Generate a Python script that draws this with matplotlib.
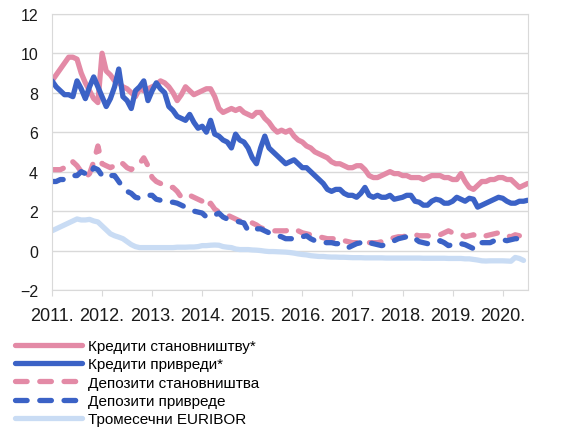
import numpy as np
import matplotlib
matplotlib.use('Agg')
import matplotlib.pyplot as plt

plt.rcParams['font.family'] = ['Liberation Sans', 'DejaVu Sans']

# monthly series, Jan 2011 onwards (%)
krediti_stan = [
    8.6, 8.9, 9.2, 9.5, 9.8, 9.8, 9.7, 9.0, 8.5, 8.1, 7.7, 7.5,
    10.0, 9.1, 8.9, 8.6, 8.5, 8.3, 8.2, 8.0, 7.8, 8.2, 8.1, 8.2,
    8.3, 8.4, 8.6, 8.5, 8.3, 8.0, 7.6, 7.9, 8.3, 8.1, 7.9, 8.0,
    8.1, 8.2, 8.2, 7.8, 7.2, 7.0, 7.1, 7.2, 7.1, 7.2, 7.0, 6.9,
    6.8, 7.0, 7.0, 6.7, 6.5, 6.2, 6.0, 6.1, 6.0, 6.1, 5.8, 5.6,
    5.5, 5.3, 5.2, 5.0, 4.9, 4.8, 4.7, 4.5, 4.4, 4.4, 4.3, 4.2,
    4.2, 4.3, 4.3, 4.1, 3.8, 3.7, 3.7, 3.8, 3.9, 4.0, 3.9, 3.9,
    3.8, 3.8, 3.7, 3.7, 3.7, 3.6, 3.7, 3.8, 3.8, 3.8, 3.7, 3.7,
    3.6, 3.6, 3.9, 3.5, 3.2, 3.1, 3.3, 3.5, 3.5, 3.6, 3.6, 3.7,
    3.7, 3.6, 3.6, 3.4, 3.2, 3.3, 3.4,
]
krediti_priv = [
    8.6, 8.3, 8.1, 7.9, 7.9, 7.8, 8.6, 8.2, 7.7, 8.3, 8.8, 8.3,
    7.8, 7.3, 7.7, 8.3, 9.2, 7.8, 7.6, 7.2, 8.1, 8.3, 8.6, 7.6,
    8.1, 8.5, 8.2, 8.0, 7.3, 7.1, 6.8, 6.7, 6.6, 6.9, 6.5, 6.2,
    6.3, 6.0, 6.6, 5.9, 5.8, 5.6, 5.5, 5.2, 5.9, 5.6, 5.5, 5.2,
    4.7, 4.4, 5.2, 5.8, 5.2, 5.0, 4.8, 4.6, 4.4, 4.5, 4.6, 4.4,
    4.2, 4.2, 4.0, 3.8, 3.6, 3.4, 3.1, 3.0, 3.1, 3.1, 2.9, 2.8,
    2.8, 2.7, 2.9, 3.2, 2.8, 2.7, 2.8, 2.7, 2.7, 2.8, 2.6, 2.65,
    2.7, 2.8, 2.8, 2.5, 2.45, 2.3, 2.3, 2.5, 2.6, 2.55, 2.4, 2.4,
    2.5, 2.7, 2.6, 2.5, 2.65, 2.6, 2.2, 2.3, 2.4, 2.5, 2.6, 2.7,
    2.65, 2.5, 2.4, 2.4, 2.5, 2.5, 2.55,
]
depoziti_stan = [
    4.1, 4.1, 4.1, 4.2, 4.2, 4.5, 4.3, 4.0, 3.7, 3.9, 4.5, 5.3,
    4.4, 4.3, 4.2, 4.3, 4.5, 4.4, 4.2, 4.1, 4.3, 4.4, 4.7, 4.3,
    3.7, 3.5, 3.4, 3.3, 3.2, 3.2, 3.0, 2.7, 2.8, 2.8, 2.7, 2.6,
    2.5, 2.2, 2.4, 2.1, 1.95, 1.9, 1.8, 1.7, 1.6, 1.5, 1.5, 1.45,
    1.4, 1.3, 1.15, 1.1, 1.05, 1.0, 1.0, 1.0, 1.0, 1.05, 1.1, 1.0,
    0.9, 0.85, 0.8, 0.75, 0.7, 0.65, 0.6, 0.6, 0.6, 0.6, 0.5, 0.45,
    0.4, 0.4, 0.4, 0.4, 0.4, 0.4, 0.4, 0.45, 0.5, 0.6, 0.65, 0.7,
    0.7, 0.75, 0.75, 0.8, 0.75, 0.75, 0.75, 0.7, 0.75, 0.8, 0.9, 1.0,
    0.9, 0.85, 0.85, 0.7, 0.75, 0.8, 0.7, 0.75, 0.75, 0.8, 0.85, 0.9,
    0.85, 0.75, 0.7, 0.8, 0.75,
]
depoziti_priv = [
    3.5, 3.5, 3.6, 3.6, 3.7, 3.8, 3.8, 4.0, 3.9, 3.8, 4.2, 4.1,
    3.8, 3.7, 3.8, 3.8, 3.5, 3.2, 3.0, 2.9, 2.7, 2.65, 2.7, 2.8,
    2.8, 2.6, 2.55, 2.5, 2.45, 2.45, 2.4, 2.3, 2.2, 2.1, 2.0, 1.95,
    1.9, 1.7, 1.7, 1.8, 1.9, 1.7, 1.6, 1.55, 1.5, 1.45, 1.4, 1.0,
    1.05, 1.1, 1.1, 1.0, 0.9, 0.85, 0.75, 0.7, 0.6, 0.6, 0.6, 0.6,
    0.7, 0.75, 0.6, 0.5, 0.45, 0.4, 0.4, 0.4, 0.35, 0.35, 0.2, 0.15,
    0.25, 0.35, 0.4, 0.5, 0.4, 0.35, 0.3, 0.25, 0.3, 0.4, 0.5, 0.6,
    0.65, 0.7, 0.75, 0.6, 0.45, 0.4, 0.35, 0.35, 0.4, 0.5, 0.4, 0.25,
    0.3, 0.4, 0.35, 0.3, 0.2, 0.1, 0.4, 0.4, 0.4, 0.4, 0.5, 0.6,
    0.55, 0.5, 0.55, 0.6, 0.6,
]
euribor = [
    1.0, 1.1, 1.2, 1.3, 1.4, 1.5, 1.6, 1.55, 1.55, 1.58, 1.5, 1.45,
    1.25, 1.05, 0.85, 0.75, 0.68, 0.6, 0.45, 0.3, 0.2, 0.15, 0.15, 0.15,
    0.15, 0.15, 0.15, 0.15, 0.15, 0.15, 0.17, 0.17, 0.17, 0.18, 0.18, 0.2,
    0.25, 0.25, 0.27, 0.28, 0.27, 0.2, 0.17, 0.15, 0.08, 0.05, 0.05, 0.05,
    0.03, 0.02, 0.0, -0.03, -0.05, -0.05, -0.06, -0.07, -0.08, -0.1, -0.13, -0.17,
    -0.2, -0.22, -0.26, -0.28, -0.3, -0.3, -0.32, -0.33, -0.33, -0.34, -0.34, -0.35,
    -0.36, -0.36, -0.36, -0.37, -0.37, -0.37, -0.37, -0.37, -0.38, -0.38, -0.38, -0.38,
    -0.38, -0.38, -0.38, -0.38, -0.38, -0.39, -0.39, -0.39, -0.39, -0.39, -0.39, -0.4,
    -0.4, -0.4, -0.4, -0.42, -0.42, -0.45, -0.48, -0.52, -0.53, -0.52, -0.52, -0.52,
    -0.52, -0.53, -0.54, -0.35, -0.4, -0.5,
]

years = ['2011.', '2012.', '2013.', '2014.', '2015.',
         '2016.', '2017.', '2018.', '2019.', '2020.']
labels = ['Кредити становништву*', 'Кредити привреди*', 'Депозити становништва',
          'Депозити привреде', 'Тромесечни EURIBOR']

pink = '#e38aa6'
blue = '#3b62c6'
light = '#c9dcf4'
lw = 3.8
dash = (2.2, 2.4)

fig = plt.figure(figsize=(5.65, 4.35), dpi=100)
ax = fig.add_axes([0.092, 0.331, 0.842, 0.635])

ax.plot(np.arange(len(krediti_stan)), krediti_stan, color=pink, lw=lw,
        solid_capstyle='round', solid_joinstyle='round', label=labels[0])
ax.plot(np.arange(len(krediti_priv)), krediti_priv, color=blue, lw=lw,
        solid_capstyle='round', solid_joinstyle='round', label=labels[1])
ax.plot(np.arange(len(depoziti_stan)), depoziti_stan, color=pink, lw=lw,
        dashes=dash, dash_capstyle='round', dash_joinstyle='round', label=labels[2])
ax.plot(np.arange(len(depoziti_priv)), depoziti_priv, color=blue, lw=lw,
        dashes=dash, dash_capstyle='round', dash_joinstyle='round', label=labels[3])
ax.plot(np.arange(len(euribor)), euribor, color=light, lw=lw,
        solid_capstyle='round', solid_joinstyle='round', label=labels[4])

ax.set_xlim(0, 114)
ax.set_ylim(-2, 12)
ax.set_yticks(range(-2, 13, 2))
ax.set_xticks(np.arange(len(years)) * 12)
ax.set_xticklabels(years)

ax.grid(axis='y', color='#d9d9d9', lw=1)
ax.set_axisbelow(True)
for s in ax.spines.values():
    s.set_color('#d9d9d9')
ax.tick_params(axis='x', length=4, color='#d9d9d9', pad=8, labelsize=13, labelcolor='#1a1a1a')
ax.tick_params(axis='y', length=0, pad=10, labelsize=11.5, labelcolor='#1a1a1a')

fig.legend(loc='upper left', bbox_to_anchor=(0.026, 0.218), frameon=False,
           fontsize=11, handlelength=4.4, handletextpad=0.4, labelspacing=0.28,
           borderpad=0, borderaxespad=0)

fig.savefig('out.png', dpi=100)
